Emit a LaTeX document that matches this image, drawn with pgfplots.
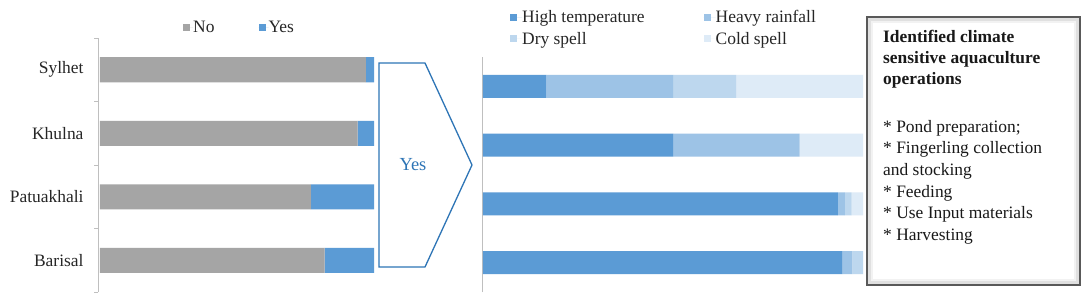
\documentclass[border=0pt]{standalone}
\usepackage{fontspec}
\setmainfont{Liberation Serif}
\usepackage{pgfplots}
\pgfplotsset{compat=1.18}
\definecolor{cNo}{HTML}{A5A5A5}
\definecolor{cYes}{HTML}{5B9BD5}
\definecolor{cHT}{HTML}{5B9BD5}
\definecolor{cHR}{HTML}{9DC3E6}
\definecolor{cDS}{HTML}{BDD7EE}
\definecolor{cCS}{HTML}{DEEBF7}
\definecolor{arrowblue}{HTML}{2E75B6}
\definecolor{axisgray}{HTML}{BFBFBF}
\definecolor{txt}{HTML}{262626}
\newcommand{\fs}{\fontsize{17.5}{20}\selectfont}
\begin{document}
\begin{tikzpicture}[x=1bp,y=1bp]
\useasboundingbox (0,0) rectangle (1084,299);
\fill[white] (0,0) rectangle (1084,299);

% ---------------- left chart ----------------
\begin{axis}[
  at={(98bp,7bp)}, anchor=south west, scale only axis,
  width=276bp, height=254bp,
  xbar stacked, bar width=25bp,
  xmin=-0.7, xmax=100, ymin=-0.5, ymax=3.5,
  axis x line=none, axis y line*=left,
  y axis line style={draw=axisgray, line width=0.8bp, -},
  ytick={0,1,2,3}, yticklabels={Barisal,Patuakhali,Khulna,Sylhet},
  minor ytick={-0.5,0.5,1.5,2.5,3.5},
  major tick length=0pt, minor tick length=4bp, tick align=outside,
  ytick style={draw=axisgray, line width=0.8bp},
  yticklabel style={font=\fs, text=txt, xshift=-11bp},
  legend columns=2, legend cell align=left,
  legend image code/.code={\path[#1,draw=none] (0bp,-3.5bp) rectangle (7bp,3.5bp); \path (0bp,0bp) -- (10bp,0bp);},
  legend style={at={(axis description cs:0.308,1.043)}, anchor=west, draw=none, fill=none,
    inner sep=0pt, font=\fs, text=txt,
    nodes={inner sep=0pt},
    /tikz/every even column/.append style={column sep=44bp}},
]
\addplot[fill=cNo, draw=none] coordinates {(82,0) (77,1) (94,2) (97,3)};
\addplot[fill=cYes, draw=none] coordinates {(18,0) (23,1) (6,2) (3,3)};
\legend{No,Yes}
\end{axis}

% ---------------- arrow ----------------
\draw[arrowblue, line width=1.3bp, line join=miter] (379,236) -- (425,236) -- (472,134) -- (425,32) -- (379,32) -- cycle;
\node[text=arrowblue, font=\fontsize{18.5}{20}\selectfont] at (413,134) {Yes};

% ---------------- right chart ----------------
\begin{axis}[
  at={(482bp,7bp)}, anchor=south west, scale only axis,
  width=381bp, height=235bp,
  xbar stacked, bar width=23bp,
  xmin=-0.26, xmax=100, ymin=-0.5, ymax=3.5,
  axis x line=none, axis y line*=left,
  y axis line style={draw=axisgray, line width=0.8bp, -},
  ytick=\empty,
  legend columns=2, legend cell align=left,
  legend image code/.code={\path[#1,draw=none] (0bp,-3.5bp) rectangle (7bp,3.5bp); \path (0bp,0bp) -- (12bp,0bp);},
  legend style={at={(axis description cs:0.0735,1.124)}, anchor=west, draw=none, fill=none,
    inner sep=0pt, font=\fs, text=txt,
    nodes={inner sep=0pt}, row sep=8bp,
    /tikz/every even column/.append style={column sep=59bp}},
]
\addplot[fill=cHT, draw=none] coordinates {(94.5,0) (93.4,1) (50,2) (16.7,3)};
\addplot[fill=cHR, draw=none] coordinates {(2.7,0) (1.8,1) (33.3,2) (33.3,3)};
\addplot[fill=cDS, draw=none] coordinates {(2.8,0) (1.8,1) (0,2) (16.7,3)};
\addplot[fill=cCS, draw=none] coordinates {(0,0) (3.0,1) (16.7,2) (33.3,3)};
\legend{High temperature,Heavy rainfall,Dry spell,Cold spell}
\end{axis}

% ---------------- text box ----------------
\fill[white] (867,14) rectangle (1080,282);
\draw[line width=4bp, black!12] (869.5,16.5) rectangle (1077.5,279.5);
\draw[line width=1.5bp, black!5] (872,19) rectangle (1075,277);
\draw[black!65, line width=1.2bp] (867,14) rectangle (1080,282);
\begin{scope}[every node/.style={anchor=base west, inner sep=0pt, font=\fs, text=black!90}]
\node at (883,257) {\bfseries Identified climate};
\node at (883,236) {\bfseries sensitive aquaculture};
\node at (883,215) {\bfseries operations};
\node at (883,167) {* Pond preparation;};
\node at (883,146) {* Fingerling collection};
\node at (883,124) {and stocking};
\node at (883,102) {* Feeding};
\node at (883,81) {* Use Input materials};
\node at (883,59) {* Harvesting};
\end{scope}
\end{tikzpicture}
\end{document}
